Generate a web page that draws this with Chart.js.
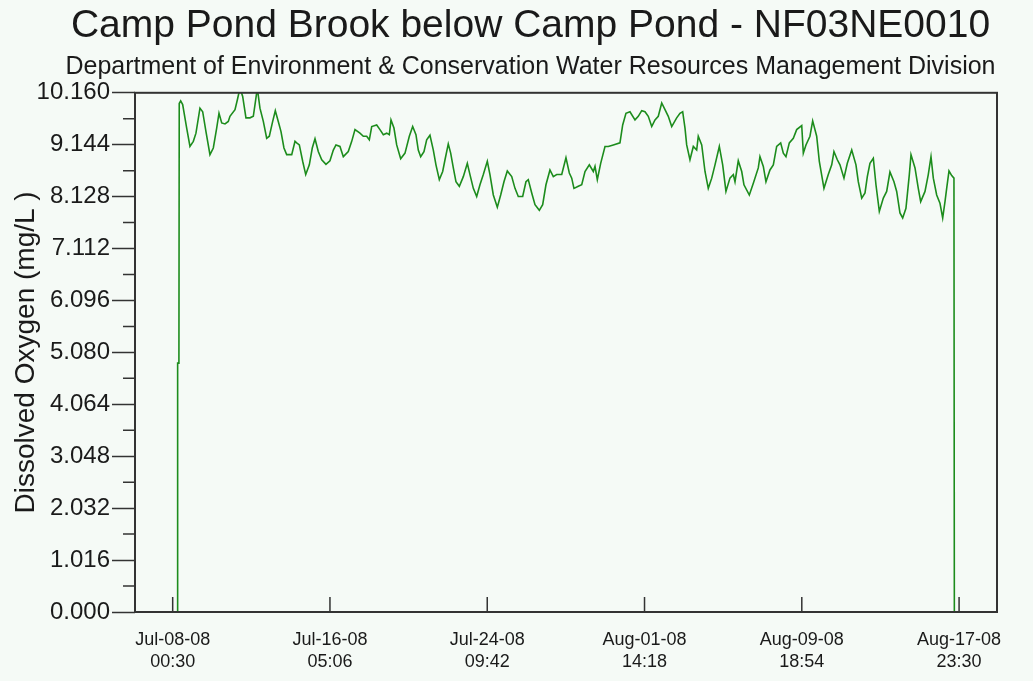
<!DOCTYPE html>
<html>
<head>
<meta charset="utf-8">
<title>Camp Pond Brook below Camp Pond - NF03NE0010</title>
<script src="https://cdn.jsdelivr.net/npm/chart.js@4.4.1/dist/chart.umd.min.js"></script>
<style>
  html, body { margin: 0; padding: 0; background: #f5faf6; }
  #wrap { width: 1033px; height: 681px; }
</style>
</head>
<body>
<div id="wrap"><canvas id="doChart" width="1033" height="681"></canvas></div>
<script>
// Hours since Jul-08-08 00:30 for each logged sample
const sampleHours = [
  5.8, 6.2, 7.8, 8.2, 10.0, 12.5, 17.5, 21.6, 25.8, 29.1,
  34.1, 37.5, 41.6, 46.6, 50.8, 55.0, 57.9, 61.3, 65.4, 69.5,
  71.6, 77.9, 80.8, 84.1, 87.5, 91.6, 96.6, 100.8, 102.9, 105.8,
  109.1, 113.3, 117.5, 120.8, 125.0, 128.3, 132.0, 135.4, 139.1, 142.5,
  148.8, 152.9, 155.0, 158.3, 162.5, 166.3, 170.8, 174.5, 177.9, 182.0,
  186.3, 191.6, 196.6, 200.8, 204.1, 209.1, 213.3, 219.5, 223.8, 227.9,
  234.1, 238.3, 242.5, 245.8, 248.8, 255.0, 259.1, 263.3, 267.5, 270.8,
  272.9, 276.6, 280.0, 285.0, 290.4, 295.8, 300.0, 304.1, 307.0, 310.0,
  314.1, 317.5, 321.6, 325.8, 329.1, 333.3, 337.5, 340.4, 344.5, 347.5,
  350.8, 354.1, 358.3, 363.3, 368.3, 371.6, 375.8, 380.0, 384.1, 388.3,
  393.3, 396.6, 400.8, 405.8, 410.0, 414.1, 418.3, 423.8, 427.9, 432.0,
  437.5, 441.6, 444.5, 448.8, 452.9, 458.3, 462.5, 466.6, 471.6, 475.8,
  480.0, 486.3, 491.6, 495.8, 498.8, 501.6, 507.0, 511.3, 515.4, 520.8,
  525.8, 527.9, 530.8, 535.0, 540.4, 544.5, 550.8, 559.1, 562.5, 566.6,
  571.6, 577.9, 582.0, 586.3, 590.4, 594.5, 598.8, 602.9, 607.0, 611.3,
  615.4, 619.5, 623.8, 630.0, 634.1, 637.5, 640.4, 642.5, 646.6, 650.8,
  655.0, 657.0, 661.3, 665.4, 669.5, 673.8, 677.9, 683.3, 687.5, 691.6,
  696.6, 700.8, 702.9, 707.0, 711.3, 714.1, 720.8, 725.8, 732.0, 734.1,
  738.3, 741.6, 746.6, 750.8, 755.0, 760.0, 763.3, 766.6, 770.8, 775.8,
  780.0, 786.3, 788.3, 791.6, 796.6, 800.0, 805.0, 808.3, 814.1, 819.5,
  823.8, 826.6, 830.8, 834.1, 839.1, 843.3, 848.8, 854.1, 857.0, 861.3,
  865.4, 868.3, 871.6, 875.8, 879.1, 883.3, 888.3, 892.5, 896.6, 901.6,
  905.0, 909.1, 912.5, 916.6, 920.8, 922.9, 927.9, 932.0, 935.0, 940.4,
  944.5, 947.9, 950.8, 955.0, 959.1, 962.5, 965.4, 967.5, 970.4, 973.8,
  976.6, 977.1
];

// Dissolved oxygen (mg/L) at those times
const oxygenMgL = [
  0, 4.87, 4.87, 9.95, 10.00, 9.93, 9.47, 9.11, 9.21, 9.37,
  9.86, 9.79, 9.40, 8.95, 9.08, 9.47, 9.76, 9.57, 9.55, 9.60,
  9.70, 9.83, 10.02, 10.25, 10.09, 9.67, 9.67, 9.70, 9.93, 10.25,
  9.86, 9.60, 9.27, 9.31, 9.60, 9.81, 9.60, 9.40, 9.08, 8.95,
  8.95, 9.21, 9.18, 9.14, 8.82, 8.56, 8.75, 9.08, 9.26, 9.01,
  8.85, 8.76, 8.83, 9.04, 9.14, 9.11, 8.91, 9.01, 9.21, 9.44,
  9.37, 9.31, 9.31, 9.24, 9.50, 9.53, 9.44, 9.34, 9.37, 9.34,
  9.63, 9.47, 9.14, 8.87, 8.98, 9.31, 9.50, 9.34, 9.04, 8.91,
  9.01, 9.24, 9.33, 9.04, 8.75, 8.46, 8.62, 8.85, 9.16, 8.98,
  8.69, 8.42, 8.33, 8.52, 8.78, 8.56, 8.29, 8.13, 8.36, 8.56,
  8.82, 8.56, 8.16, 7.92, 8.16, 8.42, 8.63, 8.52, 8.29, 8.13,
  8.13, 8.42, 8.46, 8.20, 7.97, 7.86, 7.97, 8.36, 8.65, 8.52,
  8.56, 8.56, 8.89, 8.59, 8.49, 8.29, 8.33, 8.36, 8.62, 8.75,
  8.62, 8.72, 8.46, 8.78, 9.11, 9.11, 9.14, 9.18, 9.53, 9.76,
  9.79, 9.63, 9.70, 9.81, 9.79, 9.70, 9.50, 9.63, 9.70, 9.96,
  9.83, 9.70, 9.50, 9.67, 9.76, 9.79, 9.47, 9.14, 8.85, 9.11,
  9.04, 9.31, 9.14, 8.62, 8.29, 8.49, 8.75, 9.11, 8.75, 8.23,
  8.49, 8.56, 8.42, 8.83, 8.62, 8.36, 8.16, 8.39, 8.69, 8.91,
  8.72, 8.42, 8.65, 8.75, 9.11, 9.18, 8.98, 8.91, 9.18, 9.27,
  9.44, 9.52, 8.98, 9.14, 9.31, 9.61, 9.31, 8.82, 8.29, 8.56,
  8.75, 9.01, 8.85, 8.75, 8.49, 8.78, 9.04, 8.75, 8.42, 8.10,
  8.20, 8.52, 8.78, 8.88, 8.36, 7.84, 8.10, 8.23, 8.61, 8.42,
  8.23, 7.81, 7.71, 7.90, 8.56, 8.95, 8.69, 8.29, 8.03, 8.23,
  8.56, 8.91, 8.49, 8.16, 8.00, 7.71, 8.03, 8.29, 8.63, 8.54,
  8.49, 0
];

// x-axis ticks (hours since Jul-08-08 00:30) and their two-line labels
const xTickHours = [0, 196.6, 393.2, 589.8, 786.4, 983];
const xTickDates = ['Jul-08-08', 'Jul-16-08', 'Jul-24-08', 'Aug-01-08', 'Aug-09-08', 'Aug-17-08'];
const xTickTimes = ['00:30', '05:06', '09:42', '14:18', '18:54', '23:30'];

// y-axis ticks (mg/L)
const yTickValues = [0, 1.016, 2.032, 3.048, 4.064, 5.080, 6.096, 7.112, 8.128, 9.144, 10.160];

const FONT = "Arial, 'Liberation Sans', sans-serif";
const INK = '#1a1a1a';
const BG = '#f5faf6';

const points = sampleHours.map((h, i) => ({ x: h, y: oxygenMgL[i] }));

// background, minor ticks, inward x ticks and plot frame
const frameAndTicks = {
  id: 'frameAndTicks',
  beforeDraw(chart) {
    const ctx = chart.ctx;
    ctx.save();
    ctx.fillStyle = BG;
    ctx.fillRect(0, 0, chart.width, chart.height);
    ctx.restore();
  },
  afterDatasetsDraw(chart) {
    const { ctx, chartArea: a, scales: { x, y } } = chart;
    ctx.save();
    ctx.strokeStyle = '#333';
    ctx.lineWidth = 1.5;
    ctx.beginPath();
    for (let i = 0; i < yTickValues.length - 1; i++) {
      const py = y.getPixelForValue((yTickValues[i] + yTickValues[i + 1]) / 2);
      ctx.moveTo(a.left - 12, py);
      ctx.lineTo(a.left, py);
    }
    xTickHours.forEach(h => {
      const px = x.getPixelForValue(h);
      ctx.moveTo(px, a.bottom - 15);
      ctx.lineTo(px, a.bottom);
    });
    ctx.stroke();
    ctx.lineWidth = 2;
    ctx.strokeRect(a.left, a.top, a.right - a.left, a.bottom - a.top);
    ctx.restore();
  }
};

new Chart(document.getElementById('doChart'), {
  type: 'line',
  data: {
    datasets: [{
      data: points,
      borderColor: '#1c8c1c',
      borderWidth: 1.6,
      pointRadius: 0,
      tension: 0,
      fill: false
    }]
  },
  options: {
    responsive: false,
    animation: false,
    devicePixelRatio: 1,
    layout: { padding: { left: 28, right: 0, top: 0, bottom: 0 } },
    plugins: {
      legend: { display: false },
      tooltip: { enabled: false },
      title: {
        display: true,
        text: 'Camp Pond Brook below Camp Pond - NF03NE0010',
        color: INK,
        font: { family: FONT, size: 39, weight: 'normal' },
        padding: { top: 3, bottom: 0 }
      },
      subtitle: {
        display: true,
        text: 'Department of Environment & Conservation Water Resources Management Division',
        color: INK,
        font: { family: FONT, size: 25, weight: 'normal' },
        padding: { top: 2, bottom: 11 }
      }
    },
    scales: {
      x: {
        type: 'linear',
        min: -47.1,
        max: 1030.4,
        afterBuildTicks: scale => { scale.ticks = xTickHours.map(v => ({ value: v })); },
        afterFit: scale => { scale.height = 69; },
        grid: { display: false, drawTicks: false },
        border: { display: false },
        ticks: {
          autoSkip: false,
          maxRotation: 0,
          padding: 18,
          color: INK,
          font: { family: FONT, size: 18, lineHeight: 1.17 },
          callback: (v, i) => [xTickDates[i], xTickTimes[i]]
        }
      },
      y: {
        min: 0,
        max: 10.16,
        afterBuildTicks: scale => { scale.ticks = yTickValues.map(v => ({ value: v })); },
        afterFit: scale => { scale.width = 107; },
        grid: {
          drawOnChartArea: false,
          drawTicks: true,
          tickLength: 23,
          tickWidth: 1.5,
          tickColor: '#333'
        },
        border: { display: false },
        title: {
          display: true,
          text: 'Dissolved Oxygen (mg/L )',
          color: INK,
          font: { family: FONT, size: 28, weight: 'normal' },
          padding: { top: -19, bottom: 0 }
        },
        ticks: {
          padding: 2,
          color: INK,
          font: { family: FONT, size: 24 },
          callback: v => v.toFixed(3)
        }
      },
      // empty strip on the right so the plot ends where the frame does
      yRight: {
        position: 'right',
        min: 0,
        max: 1,
        grid: { display: false },
        border: { display: false },
        ticks: { display: false },
        afterFit: scale => { scale.width = 36; }
      }
    }
  },
  plugins: [frameAndTicks]
});
</script>
</body>
</html>
